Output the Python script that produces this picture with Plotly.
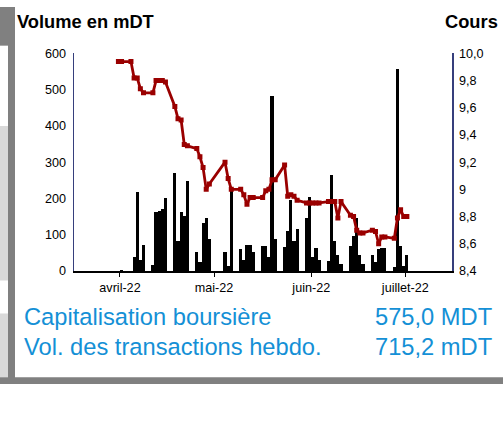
import plotly.graph_objects as go

# ---------------- data ----------------
dates = [
    "2022-03-31", "2022-04-01",
    "2022-04-04", "2022-04-05", "2022-04-06", "2022-04-07", "2022-04-08",
    "2022-04-11", "2022-04-12", "2022-04-13", "2022-04-14", "2022-04-15",
    "2022-04-18", "2022-04-19", "2022-04-20", "2022-04-21", "2022-04-22",
    "2022-04-25", "2022-04-26", "2022-04-27", "2022-04-28", "2022-04-29",
    "2022-05-04", "2022-05-05", "2022-05-06",
    "2022-05-09", "2022-05-10", "2022-05-11", "2022-05-12", "2022-05-13",
    "2022-05-16", "2022-05-17", "2022-05-18", "2022-05-19", "2022-05-20",
    "2022-05-23", "2022-05-24", "2022-05-25", "2022-05-26", "2022-05-27",
    "2022-05-30", "2022-05-31", "2022-06-01", "2022-06-02", "2022-06-03",
    "2022-06-06", "2022-06-07", "2022-06-08", "2022-06-09", "2022-06-10",
    "2022-06-13", "2022-06-14", "2022-06-15", "2022-06-16", "2022-06-17",
    "2022-06-20", "2022-06-21", "2022-06-22", "2022-06-23", "2022-06-24",
    "2022-06-27", "2022-06-28", "2022-06-29", "2022-06-30", "2022-07-01",
]
volume = [
    0, 3,
    0, 39, 217, 30, 72,
    17, 163, 166, 172, 200,
    269, 83, 163, 152, 248,
    51, 24, 131, 146, 88,
    51, 14, 226,
    61, 30, 72, 72, 51,
    70, 70, 39, 483, 88,
    66, 110, 195, 83, 115,
    146, 205, 39, 63, 30,
    27, 264, 83, 44, 20,
    70, 95, 147, 45, 20,
    44, 26, 61, 63, 63,
    12, 558, 70, 15, 45,
]
price = [
    9.94, 9.94,
    9.94, 9.82, 9.82, 9.74, 9.71,
    9.71, 9.80, 9.80, 9.80, 9.79,
    9.61, 9.52, 9.51, 9.33, 9.32,
    9.30, 9.24, 9.16, 9.00, 9.04,
    9.20, 9.08, 9.00,
    9.00, 8.96, 8.89, 8.94, 8.94,
    8.94, 8.99, 9.00, 9.07, 9.07,
    9.18, 8.95, 8.96, 8.95, 8.92,
    8.90, 8.90, 8.90, 8.90, 8.90,
    8.91, 8.91, 8.91, 8.79, 8.91,
    8.81, 8.80, 8.70, 8.68, 8.68,
    8.70, 8.69, 8.60, 8.65, 8.65,
    8.64, 8.79, 8.85, 8.80, 8.80,
]
month_ticks = ["2022-04-01", "2022-05-01", "2022-06-01", "2022-07-01"]
month_labels = ["avril-22", "mai-22", "juin-22", "juillet-22"]
vol_ticks = [0, 100, 200, 300, 400, 500, 600]
price_ticks = [8.4, 8.6, 8.8, 9.0, 9.2, 9.4, 9.6, 9.8, 10.0]
price_labels = ["8,4", "8,6", "8,8", "9", "9,2", "9,4", "9,6", "9,8", "10,0"]

W, H = 503, 422
def px(x):
    return x / W
def py(y):
    return 1 - y / H

DAY = 86400000
FONT = "Liberation Sans, Arial, sans-serif"
RED = "#9a0000"
BLUE = "#1490d6"
AXBLUE = "#363f7c"

fig = go.Figure()
fig.add_trace(go.Bar(
    x=dates, y=volume, width=DAY,
    xperiod=DAY, xperiod0="2022-01-01", xperiodalignment="middle",
    marker=dict(color="black", line=dict(width=0)),
    yaxis="y", showlegend=False, hoverinfo="skip",
))
fig.add_trace(go.Scatter(
    x=dates, y=price, mode="lines+markers",
    xperiod=DAY, xperiod0="2022-01-01", xperiodalignment="middle",
    line=dict(color=RED, width=2.8),
    marker=dict(symbol="square", size=5, color=RED),
    yaxis="y2", showlegend=False, hoverinfo="skip",
))

fig.update_layout(
    width=W, height=H, autosize=False,
    margin=dict(l=0, r=0, t=0, b=0),
    paper_bgcolor="white", plot_bgcolor="white",
    bargap=0,
    font=dict(family=FONT, size=12.6, color="black"),
    xaxis=dict(
        domain=[px(74), px(452)],
        type="date",
        range=["2022-03-17 08:00", "2022-07-15 21:30"],
        tickmode="array", tickvals=month_ticks, ticktext=month_labels,
        ticks="outside", ticklen=4, tickcolor="black", tickwidth=1,
        showline=True, linecolor="black", linewidth=2,
        showgrid=False, zeroline=False,
        tickfont=dict(family=FONT, size=12.6, color="black"),
    ),
    yaxis=dict(
        domain=[py(273), py(48)],
        range=[0, 600],
        tickmode="array", tickvals=vol_ticks,
        ticks="", showline=True, linecolor=AXBLUE, linewidth=1.5,
        showgrid=False, zeroline=False,
        ticklabelstandoff=4,
        tickfont=dict(family=FONT, size=12.6, color="black"),
    ),
    yaxis2=dict(
        overlaying="y", side="right",
        range=[8.4, 10.0],
        tickmode="array", tickvals=price_ticks, ticktext=price_labels,
        ticks="", showline=True, linecolor=AXBLUE, linewidth=1.5,
        showgrid=False, zeroline=False,
        ticklabelstandoff=3,
        tickfont=dict(family=FONT, size=12.6, color="black"),
    ),
)

shapes = [
    dict(x0=0, x1=px(8), y0=py(40), y1=py(0), fillcolor="#808080"),
    dict(x0=0, x1=px(8), y0=py(283), y1=py(123), fillcolor="#d9d9d9"),
    dict(x0=0, x1=px(8), y0=py(383), y1=py(317), fillcolor="#d9d9d9"),
    dict(x0=px(8), x1=px(15), y0=py(390), y1=py(0), fillcolor="#808080"),
    dict(x0=0, x1=1, y0=py(390), y1=py(383), fillcolor="#808080"),
]
for s in shapes:
    fig.add_shape(type="rect", xref="paper", yref="paper",
                  line=dict(width=0), layer="below", **s)

ann = [
    dict(text="<b>Volume en mDT</b>", x=px(15), xanchor="left", y=py(15.5),
         font=dict(size=18.3, color="black")),
    dict(text="<b>Cours</b>", x=px(500), xanchor="right", y=py(15.5),
         font=dict(size=18.3, color="black")),
    dict(text="Capitalisation boursière", x=px(22), xanchor="left", y=py(320.5),
         font=dict(size=23.7, color=BLUE)),
    dict(text="575,0 MDT", x=px(494), xanchor="right", y=py(320.5),
         font=dict(size=23.7, color=BLUE)),
    dict(text="Vol. des transactions hebdo.", x=px(22), xanchor="left", y=py(352),
         font=dict(size=23.7, color=BLUE)),
    dict(text="715,2 mDT", x=px(494), xanchor="right", y=py(352),
         font=dict(size=23.7, color=BLUE)),
]
for a in ann:
    a["font"]["family"] = FONT
    fig.add_annotation(xref="paper", yref="paper", yanchor="middle",
                       showarrow=False, **a)

fig.write_html(
    "out.html",
    config={"displayModeBar": False, "staticPlot": True},
    default_width="503px", default_height="422px",
    post_script=(
        "document.documentElement.style.margin='0';"
        "document.documentElement.style.padding='0';"
        "document.documentElement.style.overflow='hidden';"
        "document.body.style.margin='0';"
        "document.body.style.padding='0';"
        "document.body.style.overflow='hidden';"
    ),
)
